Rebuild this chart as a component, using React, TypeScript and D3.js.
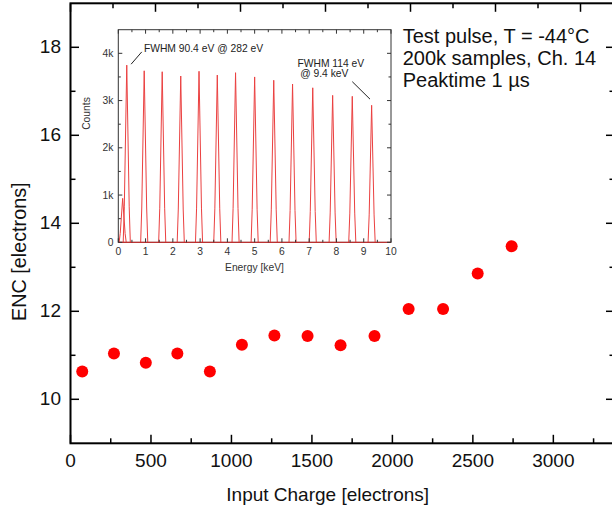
import React from "react";
import * as d3 from "d3";

// Main series: ENC vs input charge
const inputCharge = [73, 270, 468, 664, 866, 1065, 1267, 1473, 1678, 1889, 2101, 2315, 2530, 2741];
const encValues = [10.63, 11.04, 10.83, 11.04, 10.63, 11.24, 11.45, 11.44, 11.23, 11.44, 12.05, 12.05, 12.86, 13.48];

const xTickValues = [0, 500, 1000, 1500, 2000, 2500, 3000];
const yTickValues = [10, 12, 14, 16, 18];

// Inset spectrum: peak centres (keV) and heights (counts)
const peakCenters = [0.16, 0.31, 0.95, 1.61, 2.29, 2.96, 3.63, 4.3, 5.0, 5.7, 6.39, 7.13, 7.86, 8.58, 9.29];
const peakHeights = [930, 3750, 3630, 3610, 3520, 3620, 3540, 3590, 3500, 3430, 3350, 3270, 3110, 3090, 2900];
// peak profile template (offset in keV, relative height)
const profileOffsets = [-0.13, -0.09, 0, 0.09, 0.13];
const profileShape = [0, 0.2, 1, 0.2, 0];

const insetXTicks = [0, 1, 2, 3, 4, 5, 6, 7, 8, 9, 10];
const insetYTicks = [0, 1000, 2000, 3000, 4000];
const insetYLabels = ["0", "1k", "2k", "3k", "4k"];

const infoLines = ["Test pulse, T = -44°C", "200k samples, Ch. 14", "Peaktime 1 µs"];

const FONT = "'Liberation Sans', Arial, Helvetica, sans-serif";

export default function App() {
  const left = 70.5, right = 614.5, top = 3.3, bottom = 443.3;
  const x = d3.scaleLinear().domain([0, 3380]).range([left, right]);
  const xTop = d3.scaleLinear().domain([0, 3200]).range([left, right]);
  const y = d3.scaleLinear().domain([9, 19]).range([bottom, top]);

  const xMinor = d3.range(250, 3380, 500);
  const xTopMajor = d3.range(0, 3201, 500);
  const xTopMinor = d3.range(250, 3200, 500);
  const yMinor = [11, 13, 15, 17];

  // inset
  const iL = 118.3, iR = 391, iT = 29.7, iB = 242.3;
  const ix = d3.scaleLinear().domain([0, 10]).range([iL, iR]);
  const iy = d3.scaleLinear().domain([0, 4500]).range([iB, iT]);
  const line = d3.line<[number, number]>().x((d) => ix(d[0])).y((d) => iy(d[1]));
  const peakPaths = peakCenters.map((c, i) =>
    line(profileOffsets.map((o, k) => [c + o, peakHeights[i] * profileShape[k]] as [number, number]))
  );
  const baseline = line([[0, 0], [10, 0]]);
  const ixMinor = d3.range(0.5, 10, 1);
  const iyMinor = [500, 1500, 2500, 3500];

  const axisColor = "#000";
  const insetColor = "#333";

  return (
    <svg width={612} height={509} style={{ position: "absolute", left: 0, top: 0, background: "#fff" }} fontFamily={FONT}>
      {/* main frame */}
      <rect x={left} y={top} width={right - left} height={bottom - top} fill="none" stroke={axisColor} strokeWidth={2} />
      {/* bottom ticks */}
      {xTickValues.map((v) => (
        <line key={"xb" + v} x1={x(v)} x2={x(v)} y1={bottom} y2={bottom - 8.5} stroke={axisColor} strokeWidth={1.5} />
      ))}
      {xMinor.map((v) => (
        <line key={"xbm" + v} x1={x(v)} x2={x(v)} y1={bottom} y2={bottom - 5} stroke={axisColor} strokeWidth={1.5} />
      ))}
      {/* top ticks */}
      {xTopMajor.map((v) => (
        <line key={"xt" + v} x1={xTop(v)} x2={xTop(v)} y1={top} y2={top + 8.5} stroke={axisColor} strokeWidth={1.5} />
      ))}
      {xTopMinor.map((v) => (
        <line key={"xtm" + v} x1={xTop(v)} x2={xTop(v)} y1={top} y2={top + 5} stroke={axisColor} strokeWidth={1.5} />
      ))}
      {/* left/right ticks */}
      {yTickValues.map((v) => (
        <g key={"y" + v}>
          <line x1={left} x2={left + 8.5} y1={y(v)} y2={y(v)} stroke={axisColor} strokeWidth={1.5} />
          <line x1={right} x2={right - 8.5} y1={y(v)} y2={y(v)} stroke={axisColor} strokeWidth={1.5} />
        </g>
      ))}
      {yMinor.map((v) => (
        <g key={"ym" + v}>
          <line x1={left} x2={left + 5} y1={y(v)} y2={y(v)} stroke={axisColor} strokeWidth={1.5} />
          <line x1={right} x2={right - 5} y1={y(v)} y2={y(v)} stroke={axisColor} strokeWidth={1.5} />
        </g>
      ))}
      {/* tick labels */}
      {xTickValues.map((v) => (
        <text key={"xl" + v} x={x(v)} y={466.5} textAnchor="middle" fontSize={19} fill="#111">
          {v}
        </text>
      ))}
      {yTickValues.map((v) => (
        <text key={"yl" + v} x={61} y={y(v) + 5.8} textAnchor="end" fontSize={19} fill="#111">
          {v}
        </text>
      ))}
      <text x={327.7} y={501} textAnchor="middle" fontSize={19} fill="#111">
        Input Charge [electrons]
      </text>
      <text transform={`translate(26,251.7) rotate(-90)`} textAnchor="middle" fontSize={19.8} fill="#111">
        ENC [electrons]
      </text>
      {/* info text */}
      {infoLines.map((t, i) => (
        <text key={t} x={402.7} y={43.3 + i * 21.7} fontSize={20} fill="#111">
          {t}
        </text>
      ))}
      {/* data points */}
      {inputCharge.map((v, i) => (
        <circle key={"p" + i} cx={x(v)} cy={y(encValues[i])} r={6} fill="#ff0000" />
      ))}

      {/* inset */}
      <rect x={iL} y={iT} width={iR - iL} height={iB - iT} fill="#fff" stroke={insetColor} strokeWidth={1} />
      <g stroke="#e82020" strokeWidth={1} fill="none" opacity={0.85}>
        <path d={baseline || ""} />
        {peakPaths.map((d, i) => (
          <path key={"pk" + i} d={d || ""} />
        ))}
      </g>
      {insetXTicks.map((v) => (
        <g key={"ixt" + v}>
          <line x1={ix(v)} x2={ix(v)} y1={iB} y2={iB - 4} stroke={insetColor} />
          <line x1={ix(v)} x2={ix(v)} y1={iT} y2={iT + 4} stroke={insetColor} />
          <text x={ix(v)} y={255} textAnchor="middle" fontSize={10.3} fill="#333">
            {v}
          </text>
        </g>
      ))}
      {ixMinor.map((v) => (
        <g key={"ixm" + v}>
          <line x1={ix(v)} x2={ix(v)} y1={iB} y2={iB - 2.5} stroke={insetColor} />
          <line x1={ix(v)} x2={ix(v)} y1={iT} y2={iT + 2.5} stroke={insetColor} />
        </g>
      ))}
      {insetYTicks.map((v, i) => (
        <g key={"iyt" + v}>
          <line x1={iL} x2={iL + 4} y1={iy(v)} y2={iy(v)} stroke={insetColor} />
          <line x1={iR} x2={iR - 4} y1={iy(v)} y2={iy(v)} stroke={insetColor} />
          <text x={113.5} y={iy(v) + 3.5} textAnchor="end" fontSize={10.3} fill="#333">
            {insetYLabels[i]}
          </text>
        </g>
      ))}
      {iyMinor.map((v) => (
        <g key={"iym" + v}>
          <line x1={iL} x2={iL + 2.5} y1={iy(v)} y2={iy(v)} stroke={insetColor} />
          <line x1={iR} x2={iR - 2.5} y1={iy(v)} y2={iy(v)} stroke={insetColor} />
        </g>
      ))}
      <text x={254.5} y={271} textAnchor="middle" fontSize={10.3} fill="#333">
        Energy [keV]
      </text>
      <text transform={`translate(90,113.5) rotate(-90)`} textAnchor="middle" fontSize={10.3} fill="#333">
        Counts
      </text>
      {/* annotations */}
      <line x1={ix(0.47)} y1={iy(3770)} x2={ix(0.86)} y2={iy(4030)} stroke="#222" strokeWidth={1} />
      <text x={ix(0.94)} y={iy(4030)} fontSize={10.3} fill="#222">
        FWHM 90.4 eV @ 282 eV
      </text>
      <text x={ix(6.57)} y={iy(3720)} fontSize={10.3} fill="#222">
        FWHM 114 eV
      </text>
      <text x={ix(6.67)} y={iy(3490)} fontSize={10.3} fill="#222">
        @ 9.4 keV
      </text>
      <line x1={ix(8.58)} y1={iy(3400)} x2={ix(9.23)} y2={iy(3030)} stroke="#222" strokeWidth={1} />
    </svg>
  );
}
